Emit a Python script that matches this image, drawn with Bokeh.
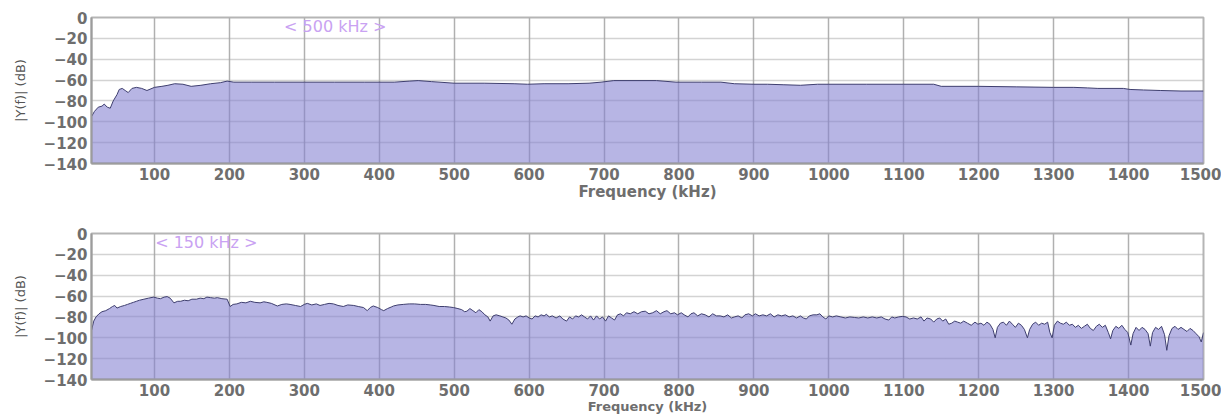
from bokeh.plotting import figure
from bokeh.layouts import column
from bokeh.models import Range1d, FixedTicker, Label
from bokeh.embed import file_html
from bokeh.resources import INLINE

# ---------------- data ----------------
x_ticks = [100, 200, 300, 400, 500, 600, 700, 800, 900, 1000, 1100, 1200, 1300, 1400, 1500]
y_ticks = [0, -20, -40, -60, -80, -100, -120, -140]

# top panel (< 500 kHz >)
freq_top = [16, 20, 25, 30, 33, 37, 41, 45, 50, 53,
            57, 61, 65, 70, 76, 83, 90, 100, 110, 118,
            127, 138, 149, 162, 175, 188, 197, 206, 230, 260,
            300, 340, 380, 420, 440, 452, 470, 500, 540, 580,
            598, 620, 652, 680, 696, 713, 740, 770, 796, 830,
            856, 874, 900, 918, 940, 962, 985, 1000, 1050, 1100,
            1140, 1150, 1200, 1250, 1300, 1327, 1345, 1359, 1393, 1402,
            1420, 1443, 1470, 1500]
db_top = [-95, -90, -86, -85, -83, -86, -87, -80, -74, -69,
          -68, -70, -72, -68, -67, -68, -70, -67, -66, -65,
          -63.5, -64, -66, -65, -63.5, -62.5, -61, -62, -62, -62,
          -62, -62, -62, -62, -61, -60.5, -61.5, -63, -63, -63.5,
          -64, -63.5, -63.5, -63, -62, -60.5, -60.5, -60.5, -62, -62,
          -62, -63.5, -64, -64, -64.5, -65, -64, -64, -64, -64,
          -64, -66, -66, -66.5, -67, -67, -67.5, -68, -68, -69,
          -69.5, -70, -70.5, -70.5]

# bottom panel (< 150 kHz >)
freq_bot = [16, 19, 22, 26, 30, 35, 40, 44, 47, 50,
            55, 60, 64, 68, 72, 76, 80, 86, 92, 99,
            104, 108, 113, 117, 121, 126, 131, 135, 140, 145,
            150, 156, 161, 166, 170, 175, 180, 184, 190, 197,
            201, 205, 210, 216, 222, 228, 234, 241, 246, 250,
            256, 264, 270, 276, 281, 288, 295, 300, 304, 310,
            316, 321, 327, 333, 339, 345, 352, 358, 366, 372,
            379, 384, 388, 392, 398, 403, 406, 411, 416, 419,
            425, 432, 440, 447, 455, 462, 468, 473, 480, 487,
            494, 499, 505, 510, 514, 517, 521, 525, 529, 533,
            537, 541, 545, 548, 552, 556, 561, 565, 569, 573,
            577, 581, 585, 588, 592, 596, 600, 604, 608, 612,
            616, 620, 623, 627, 631, 636, 641, 645, 650, 654,
            658, 662, 666, 670, 674, 678, 682, 686, 690, 694,
            698, 702, 706, 710, 714, 718, 722, 726, 730, 735,
            740, 745, 750, 755, 760, 765, 770, 775, 780, 784,
            789, 794, 798, 803, 807, 812, 816, 820, 825, 830,
            835, 840, 845, 850, 855, 860, 865, 870, 874, 879,
            884, 888, 893, 898, 902, 907, 912, 917, 922, 927,
            932, 937, 942, 947, 952, 957, 962, 966, 970, 974,
            979, 984, 988, 992, 996, 1000, 1005, 1010, 1016, 1022,
            1028, 1034, 1040, 1046, 1052, 1058, 1064, 1070, 1075, 1080,
            1084, 1088, 1093, 1098, 1103, 1108, 1113, 1118, 1123, 1127,
            1131, 1136, 1140, 1144, 1148, 1152, 1156, 1160, 1164, 1168,
            1172, 1176, 1180, 1185, 1190, 1195, 1199, 1203, 1207, 1211,
            1215, 1219, 1222, 1225, 1229, 1233, 1237, 1241, 1245, 1249,
            1253, 1257, 1261, 1265, 1268, 1272, 1276, 1280, 1284, 1288,
            1292, 1295, 1298, 1301, 1305, 1309, 1313, 1317, 1321, 1325,
            1329, 1333, 1337, 1341, 1345, 1349, 1353, 1357, 1361, 1365,
            1369, 1373, 1376, 1379, 1383, 1387, 1391, 1395, 1399, 1403,
            1406, 1410, 1414, 1418, 1422, 1426, 1429, 1432, 1436, 1440,
            1444, 1448, 1451, 1454, 1458, 1462, 1466, 1470, 1474, 1478,
            1482, 1486, 1490, 1494, 1497, 1500]
db_bot = [-93, -84, -80, -77, -75, -74, -72, -70, -69, -71.5,
          -70, -69, -68, -67, -66, -65, -64, -63, -62, -61,
          -62, -62.5, -61, -60.5, -62, -66.5, -65, -65, -64, -64.5,
          -63, -63, -62, -62.5, -61, -61.5, -62, -61.5, -62.5, -63,
          -70, -68, -67.5, -66, -66.5, -65, -66, -66.5, -65.5, -66,
          -67, -69.5, -68, -67.5, -68, -69, -70, -68, -67, -68.5,
          -67.5, -69, -68, -67, -67.5, -69, -70, -68.5, -69, -70,
          -71, -74, -71, -69.5, -71, -73, -74, -72, -70.5, -69.5,
          -68.5, -68, -67.5, -67.5, -68, -68, -68.5, -69, -70, -70,
          -70.5, -71, -72, -73, -75, -74.5, -72, -74, -76, -73,
          -75, -78, -80, -84, -79, -78, -79, -80, -81, -83,
          -87, -82, -80, -79, -80, -79, -81, -82, -79, -80,
          -78, -79, -77.5, -80, -79, -81, -79, -82, -84, -80,
          -82, -79, -80, -78, -80, -82, -79, -83, -79, -82,
          -80, -84, -79, -81, -83, -78, -77, -79, -76, -77,
          -75, -77, -75, -74.5, -77, -76, -74, -77, -75, -74,
          -77, -76, -78, -76, -78, -80, -77, -76, -79, -77,
          -78, -80, -77, -79, -79, -80, -78, -81, -80, -79,
          -81, -78, -77, -79, -77, -79, -78, -79, -77, -80,
          -78, -79, -78, -80, -79, -81, -79, -81, -82, -79,
          -78, -78, -77, -80, -82, -79, -80, -79, -80, -81,
          -80, -80.5, -81, -80, -81, -80, -81, -80, -82, -83,
          -80, -81, -80, -79.5, -80, -82, -81, -82, -80, -84,
          -81, -82, -85, -82, -81, -84, -82, -87, -86, -84,
          -85, -86, -84, -86, -88, -85, -87, -86, -88, -85,
          -87, -92, -100, -90, -86, -85, -88, -84, -87, -90,
          -86, -88, -92, -100, -92, -87, -85, -88, -86, -87,
          -85, -95, -100, -88, -84, -86, -87, -85, -88, -87,
          -90, -88, -91, -89, -87, -91, -93, -89, -87, -90,
          -88, -95, -101, -93, -89, -91, -88, -92, -95, -107,
          -96, -90, -93, -90, -92, -96, -108, -95, -90, -92,
          -89, -97, -112, -98, -91, -89, -92, -90, -92, -94,
          -91, -93, -96, -99, -104, -95]

assert len(freq_top) == len(db_top), (len(freq_top), len(db_top))
assert len(freq_bot) == len(db_bot), (len(freq_bot), len(db_bot))

FONT = "DejaVu Sans"
TICK_COLOR = "#6e6e6e"


def make_panel(freq, db, note, note_x, width, height, top_border, bottom_border,
               right_border, ylabel_standoff, xlabel_size):
    p = figure(width=width, height=height,
               x_range=Range1d(16, 1500), y_range=Range1d(-140, 0),
               output_backend="svg", toolbar_location=None,
               min_border_left=91, min_border_right=right_border,
               min_border_top=top_border, min_border_bottom=bottom_border)
    p.background_fill_color = "white"
    p.border_fill_color = "white"
    p.outline_line_color = "#b5b5b5"
    p.outline_line_width = 2

    base = [-140] * len(freq)
    p.varea(x=freq, y1=base, y2=db, fill_color="#8380d0", fill_alpha=0.58)
    p.line(freq, db, line_color="#3e3e6e", line_width=1)

    p.xaxis.ticker = FixedTicker(ticks=x_ticks)
    p.yaxis.ticker = FixedTicker(ticks=y_ticks)
    p.xgrid.ticker = FixedTicker(ticks=x_ticks)
    p.ygrid.ticker = FixedTicker(ticks=y_ticks)

    p.xgrid.grid_line_color = "#b0b0b0"
    p.xgrid.grid_line_width = 1.5
    p.ygrid.grid_line_color = "#a6a6a6"
    p.ygrid.grid_line_dash = "1 1"
    p.ygrid.grid_line_width = 1.5

    for ax in (p.xaxis[0], p.yaxis[0]):
        ax.axis_line_color = "#9c9c9c"
        ax.axis_line_width = 2
        ax.major_tick_line_color = None
        ax.minor_tick_line_color = None
        ax.major_tick_out = 0
        ax.major_tick_in = 0
        ax.minor_tick_out = 0
        ax.major_label_text_font = FONT
        ax.major_label_text_font_style = "bold"
        ax.major_label_text_font_size = "15px"
        ax.major_label_text_color = TICK_COLOR
        ax.major_label_standoff = 4

    p.xaxis.axis_label = "Frequency (kHz)"
    p.xaxis.axis_label_text_font = FONT
    p.xaxis.axis_label_text_font_style = "bold"
    p.xaxis.axis_label_text_font_size = xlabel_size
    p.xaxis.axis_label_text_color = TICK_COLOR
    p.xaxis.axis_label_standoff = 0

    p.yaxis.axis_label = "|Y(f)| (dB)"
    p.yaxis.axis_label_text_font = FONT
    p.yaxis.axis_label_text_font_style = "normal"
    p.yaxis.axis_label_text_font_size = "13px"
    p.yaxis.axis_label_text_color = "#555555"
    p.yaxis.axis_label_standoff = ylabel_standoff

    p.add_layout(Label(x=note_x, y=-9, text=note, text_color="#c9a2f2",
                       text_font=FONT, text_font_size="16px",
                       text_baseline="middle", text_align="left"))
    return p


top = make_panel(freq_top, db_top, "< 500 kHz >", 273, width=1221, height=225,
                 top_border=17, bottom_border=62, right_border=18,
                 ylabel_standoff=13, xlabel_size="15px")
bot = make_panel(freq_bot, db_bot, "< 150 kHz >", 101, width=1221, height=191,
                 top_border=8, bottom_border=35, right_border=13,
                 ylabel_standoff=13, xlabel_size="13px")

layout = column(top, bot, spacing=0)
open("out.html", "w").write(file_html(layout, INLINE))
